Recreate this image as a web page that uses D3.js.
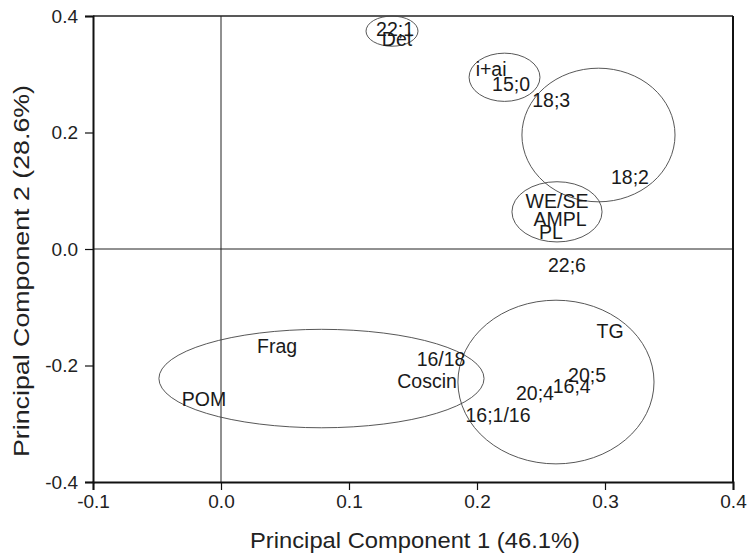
<!DOCTYPE html>
<html>
<head>
<meta charset="utf-8">
<script src="https://cdn.jsdelivr.net/npm/d3@7"></script>
<style>
  body { margin: 0; background: #fff; }
  svg { font-family: "Liberation Sans", Arial, sans-serif; }
</style>
</head>
<body>
<div id="chart"></div>
<script>
// point labels (loadings / scores) in PC1, PC2 coordinates
const labels = ["22;1", "Det", "i+ai", "15;0", "18;3", "18;2", "WE/SE", "AMPL", "PL", "22;6",
                "Frag", "16/18", "Coscin", "POM", "16;1/16", "TG", "20;5", "16;4", "20;4"];
const pc1 = [0.136, 0.1375, 0.211, 0.2266, 0.258, 0.3195, 0.2625, 0.2648, 0.2578, 0.2703,
             0.0438, 0.1719, 0.161, -0.0133, 0.2164, 0.304, 0.286, 0.274, 0.2453];
const pc2 = [0.378, 0.360, 0.309, 0.283, 0.255, 0.1241, 0.0828, 0.0517, 0.0293, -0.0276,
             -0.167, -0.188, -0.226, -0.257, -0.2845, -0.141, -0.2155, -0.236, -0.2466];

// group ellipses
const ellCx = [0.1336, 0.2215, 0.2949, 0.2625, 0.0785, 0.2617];
const ellCy = [0.374, 0.2948, 0.1957, 0.0638, -0.2224, -0.2284];
const ellRx = [0.0203, 0.0277, 0.0598, 0.0352, 0.127, 0.0766];
const ellRy = [0.0259, 0.0414, 0.1147, 0.0517, 0.0845, 0.1405];

const xTicks = [-0.1, 0.0, 0.1, 0.2, 0.3, 0.4];
const yTicks = [-0.4, -0.2, 0.0, 0.2, 0.4];

const W = 747, H = 556;
const margin = {top: 16, right: 14, bottom: 74, left: 93};
const width = W - margin.left - margin.right;
const height = H - margin.top - margin.bottom;

const svg = d3.select("#chart").append("svg")
    .attr("width", W).attr("height", H);
const g = svg.append("g")
    .attr("transform", "translate(" + margin.left + "," + margin.top + ")");

const x = d3.scaleLinear().domain([-0.1, 0.4]).range([0, width]);
const y = d3.scaleLinear().domain([-0.4, 0.4]).range([height, 0]);

// zero lines
g.append("line").attr("x1", x(0)).attr("x2", x(0)).attr("y1", 0).attr("y2", height)
    .attr("stroke", "#222").attr("stroke-width", 1);
g.append("line").attr("x1", 0).attr("x2", width).attr("y1", y(0)).attr("y2", y(0))
    .attr("stroke", "#222").attr("stroke-width", 1);

// frame top / right
g.append("line").attr("x1", 0).attr("x2", width).attr("y1", 0).attr("y2", 0)
    .attr("stroke", "#222").attr("stroke-width", 1.5);
g.append("line").attr("x1", width).attr("x2", width).attr("y1", 0).attr("y2", height)
    .attr("stroke", "#111").attr("stroke-width", 2);

// axes (plain hyphen for negatives, like the original)
const fmt = d => d3.format(".1f")(d).replace("\u2212", "-");
const xAxis = g.append("g").attr("transform", "translate(0," + height + ")")
    .call(d3.axisBottom(x).tickValues(xTicks).tickFormat(fmt).tickSizeOuter(0).tickSize(8).tickPadding(5));
const yAxis = g.append("g")
    .call(d3.axisLeft(y).tickValues(yTicks).tickFormat(fmt).tickSizeOuter(0).tickSize(8).tickPadding(7));
[xAxis, yAxis].forEach(a => {
    a.select(".domain").attr("stroke", "#111").attr("stroke-width", 2);
    a.selectAll(".tick line").attr("stroke", "#111").attr("stroke-width", 1.2);
    a.selectAll(".tick text").attr("fill", "#222").style("font-size", "19px")
        .style("font-family", "'Liberation Sans', Arial, sans-serif");
});

// ellipses
g.selectAll(".ell").data(ellCx).enter().append("ellipse")
    .attr("cx", (d, i) => x(ellCx[i]))
    .attr("cy", (d, i) => y(ellCy[i]))
    .attr("rx", (d, i) => x(ellRx[i]) - x(0))
    .attr("ry", (d, i) => y(0) - y(ellRy[i]))
    .attr("fill", "none").attr("stroke", "#444").attr("stroke-width", 0.9);

// point labels
g.selectAll(".lbl").data(labels).enter().append("text")
    .attr("x", (d, i) => x(pc1[i]))
    .attr("y", (d, i) => y(pc2[i]))
    .attr("dy", "0.36em")
    .attr("text-anchor", "middle")
    .attr("fill", "#1a1a1a")
    .style("font-size", "19.5px")
    .text(d => d);

// axis titles
svg.append("text")
    .attr("x", margin.left + width / 2 + 2).attr("y", 548)
    .attr("text-anchor", "middle").attr("fill", "#222")
    .style("font-size", "22px")
    .attr("textLength", 330).attr("lengthAdjust", "spacingAndGlyphs")
    .text("Principal Component 1 (46.1%)");
svg.append("text")
    .attr("transform", "translate(29," + 271 + ") rotate(-90)")
    .attr("text-anchor", "middle").attr("fill", "#222")
    .style("font-size", "22px")
    .attr("textLength", 372).attr("lengthAdjust", "spacingAndGlyphs")
    .text("Principal Component 2 (28.6%)");
</script>
</body>
</html>
